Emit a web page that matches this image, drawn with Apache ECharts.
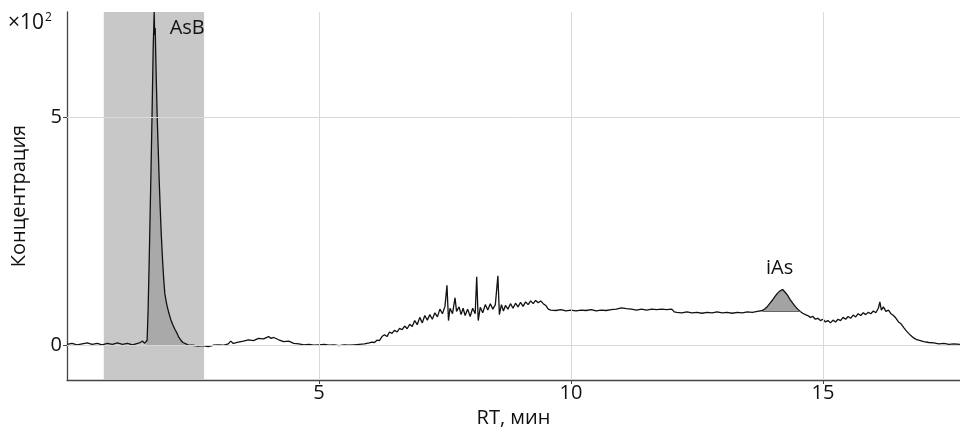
<!DOCTYPE html>
<html>
<head>
<meta charset="utf-8">
<script src="https://cdn.jsdelivr.net/npm/echarts@6/dist/echarts.min.js"></script>
<style>html,body{margin:0;padding:0;background:#fff}#c{width:960px;height:433px}</style>
</head>
<body>
<div id="c"></div>
<script>
// ---- data (RT in min, signal in ×10²) ----
var baselineStart = [[0.0,0.03],[0.1,0.05],[0.2,0.02],[0.3,0.04],[0.4,0.06],[0.5,0.03],[0.6,0.05],[0.7,0.02],[0.8,0.05],[0.9,0.03],[1.0,0.06],[1.1,0.03],[1.2,0.05],[1.3,0.02],[1.4,0.05],[1.45,0.07],[1.5,0.1],[1.54,0.05],[1.57,0.04]];
var asbPeak = [[1.59,0.12],[1.61,0.8],[1.63,1.8],[1.65,2.9],[1.67,4.0],[1.69,5.2],[1.71,6.5],[1.73,7.3],[1.74,6.8],[1.75,6.95],[1.77,5.9],[1.79,5.0],[1.81,4.3],[1.83,3.6],[1.85,3.0],[1.87,2.45],[1.90,1.8],[1.92,1.45],[1.94,1.15],[1.96,1.02],[1.98,0.9],[2.0,0.86],[2.02,0.72],[2.04,0.68],[2.06,0.57],[2.08,0.54],[2.10,0.46],[2.12,0.43],[2.14,0.36],[2.16,0.33],[2.18,0.28],[2.20,0.23],[2.22,0.18],[2.24,0.16],[2.26,0.12],[2.28,0.11],[2.30,0.07],[2.33,0.06],[2.36,0.04],[2.40,0.02]];
var midBaseline = [[2.5,0.01],[2.6,-0.01],[2.7,0.0],[2.8,-0.02],[2.9,0.01],[3.0,0.02],[3.1,0.01],[3.2,0.04],[3.25,0.1],[3.3,0.05],[3.4,0.08],[3.5,0.1],[3.6,0.13],[3.7,0.11],[3.8,0.16],[3.9,0.15],[4.0,0.2],[4.05,0.16],[4.1,0.18],[4.2,0.13],[4.3,0.09],[4.4,0.1],[4.5,0.05],[4.6,0.04],[4.7,0.02],[4.8,0.03],[4.9,0.01],[5.0,0.02],[5.1,0.03],[5.2,0.01],[5.3,0.02],[5.4,0.0],[5.5,0.02],[5.6,0.01],[5.7,0.02],[5.8,0.03],[5.9,0.04]];
var riseRegion = [[6.0,0.06],[6.05,0.08],[6.1,0.07],[6.15,0.12],[6.2,0.11],[6.25,0.2],[6.3,0.24],[6.35,0.2],[6.4,0.3],[6.45,0.27],[6.5,0.34],[6.55,0.3],[6.6,0.38],[6.65,0.35],[6.7,0.43],[6.75,0.37],[6.8,0.47],[6.85,0.42],[6.9,0.55],[6.95,0.46],[7.0,0.62],[7.05,0.5],[7.1,0.66],[7.15,0.56],[7.2,0.68],[7.25,0.58],[7.3,0.72],[7.35,0.63],[7.4,0.8],[7.45,0.7],[7.5,0.86],[7.54,1.32],[7.57,0.55],[7.6,0.82],[7.65,0.7],[7.7,1.05],[7.73,0.75],[7.78,0.85],[7.82,0.68],[7.86,0.82],[7.9,0.66],[7.95,0.8],[8.0,0.64],[8.05,0.82],[8.1,0.7],[8.13,1.51],[8.16,0.55],[8.2,0.84],[8.25,0.72],[8.3,0.9],[8.35,0.78],[8.4,0.92],[8.45,0.8],[8.5,0.9],[8.55,1.53],[8.58,0.68],[8.62,0.9],[8.66,0.76],[8.7,0.88],[8.75,0.8],[8.8,0.92],[8.85,0.82],[8.9,0.93],[8.95,0.85],[9.0,0.95],[9.05,0.86],[9.1,0.96],[9.15,0.9],[9.2,0.98],[9.25,0.92],[9.3,0.99],[9.35,0.94],[9.4,0.98],[9.45,0.92],[9.5,0.88],[9.55,0.8],[9.6,0.78]];
var plateau = [[9.7,0.77],[9.8,0.79],[9.9,0.76],[10.0,0.78],[10.1,0.76],[10.2,0.78],[10.3,0.77],[10.4,0.79],[10.5,0.76],[10.6,0.78],[10.7,0.77],[10.8,0.79],[10.9,0.8],[11.0,0.83],[11.1,0.81],[11.2,0.8],[11.3,0.78],[11.4,0.8],[11.5,0.78],[11.6,0.8],[11.7,0.79],[11.8,0.8],[11.9,0.79],[12.0,0.8],[12.05,0.74],[12.1,0.73],[12.2,0.72],[12.3,0.74],[12.4,0.72],[12.5,0.73],[12.6,0.71],[12.7,0.73],[12.8,0.72],[12.9,0.74],[13.0,0.72],[13.1,0.73],[13.2,0.71],[13.3,0.73],[13.4,0.72],[13.5,0.74],[13.6,0.73],[13.7,0.75],[13.8,0.77]];
var iasPeak = [[13.85,0.81],[13.9,0.86],[13.95,0.93],[14.0,1.0],[14.05,1.08],[14.1,1.15],[14.15,1.2],[14.2,1.23],[14.25,1.17],[14.3,1.1],[14.35,1.01],[14.4,0.93],[14.45,0.86],[14.5,0.8],[14.55,0.75],[14.6,0.71],[14.65,0.68]];
var tailRegion = [[14.7,0.66],[14.75,0.62],[14.8,0.64],[14.85,0.58],[14.9,0.6],[14.95,0.55],[15.0,0.58],[15.05,0.52],[15.1,0.55],[15.15,0.5],[15.2,0.56],[15.25,0.52],[15.3,0.58],[15.35,0.55],[15.4,0.62],[15.45,0.58],[15.5,0.64],[15.55,0.6],[15.6,0.67],[15.65,0.63],[15.7,0.7],[15.75,0.66],[15.8,0.72],[15.85,0.68],[15.9,0.73],[15.95,0.7],[16.0,0.76],[16.05,0.72],[16.1,0.82],[16.13,0.96],[16.16,0.78],[16.2,0.85],[16.25,0.75],[16.3,0.78],[16.35,0.7],[16.4,0.66],[16.45,0.6],[16.5,0.52],[16.55,0.48],[16.6,0.4],[16.65,0.33],[16.7,0.27],[16.75,0.22],[16.8,0.17],[16.85,0.14],[16.9,0.12],[17.0,0.09],[17.1,0.07],[17.2,0.06],[17.3,0.04],[17.4,0.05],[17.5,0.03],[17.6,0.04],[17.72,0.03]];

var xTicks = [5, 10, 15];
var yTicks = [0, 5];
var xRange = [0, 17.72];
var yRange = [-0.75, 7.3];
var asbWindow = [0.73, 2.72];     // shaded integration window
var asbFillRange = [1.57, 2.40];  // integrated AsB area (to 0)
var iasFillRange = [13.8, 14.55]; // integrated iAs area
var iasBase = 0.75;               // iAs integration baseline
var asbLabel = {name: 'AsB', rt: 1.73, value: 7.3};
var iasLabel = {name: 'iAs', rt: 14.2, value: 1.23};

var signal = [].concat(baselineStart, asbPeak, midBaseline, riseRegion, plateau, iasPeak, tailRegion);
function inRange(r){ return signal.filter(function(p){ return p[0] >= r[0] && p[0] <= r[1]; }); }

var FONT = 'Open Sans';
var FS = 20;
var chart = echarts.init(document.getElementById('c'), null, {renderer: 'canvas'});
chart.setOption({
  animation: false,
  backgroundColor: '#fff',
  textStyle: {fontFamily: FONT},
  grid: {left: 67, right: 0, top: 12, bottom: 53, containLabel: false},
  xAxis: {
    type: 'value', min: xRange[0], max: xRange[1],
    name: 'RT, мин', nameLocation: 'middle', nameGap: 22,
    nameTextStyle: {fontFamily: FONT, fontSize: FS, color: '#111'},
    axisLine: {show: true, onZero: false, lineStyle: {color: '#444', width: 1.3}},
    axisTick: {show: true, length: 4, customValues: xTicks, lineStyle: {color: '#444'}},
    axisLabel: {customValues: xTicks, fontFamily: FONT, fontSize: FS, color: '#111', margin: 3},
    splitLine: {show: false}
  },
  yAxis: {
    type: 'value', min: yRange[0], max: yRange[1],
    name: 'Концентрация', nameLocation: 'middle', nameGap: 38, nameRotate: 90,
    nameTextStyle: {fontFamily: FONT, fontSize: FS, color: '#111'},
    axisLine: {show: true, onZero: false, lineStyle: {color: '#444', width: 1.3}},
    axisTick: {show: true, length: 4, customValues: yTicks, lineStyle: {color: '#444'}},
    axisLabel: {customValues: yTicks, fontFamily: FONT, fontSize: FS, color: '#111', margin: 5},
    splitLine: {show: false}
  },
  graphic: [{
    type: 'text', left: 8, top: 12,
    style: {
      text: '{a|×10}{b|2}',
      rich: {
        a: {fontFamily: FONT, fontSize: 21, fill: '#111', verticalAlign: 'bottom'},
        b: {fontFamily: FONT, fontSize: 12, fill: '#111', verticalAlign: 'top', padding: [0,0,10,1]}
      }
    }
  }],
  series: [
    {
      type: 'line', data: [], z: 1, silent: true,
      markArea: {silent: true, itemStyle: {color: '#c8c8c8'},
        data: [[{xAxis: asbWindow[0]}, {xAxis: asbWindow[1]}]]}
    },
    {
      type: 'line', data: [], z: 2, silent: true,
      markLine: {silent: true, symbol: ['none','none'], label: {show: false},
        lineStyle: {color: '#d9d9d9', type: 'solid', width: 1},
        data: xTicks.map(function(v){ return {xAxis: v}; }).concat(yTicks.map(function(v){ return {yAxis: v}; }))}
    },
    {
      type: 'line', data: inRange(asbFillRange), z: 3, silent: true, showSymbol: false,
      lineStyle: {width: 0}, areaStyle: {color: '#a9a9a9', opacity: 1, origin: 0}
    },
    {
      type: 'line', data: inRange(iasFillRange), z: 3, silent: true, showSymbol: false,
      lineStyle: {width: 0}, areaStyle: {color: '#a3a3a3', opacity: 1, origin: iasBase},
      markLine: {silent: true, symbol: ['none','none'], label: {show: false},
        lineStyle: {color: '#666', type: 'solid', width: 1.2},
        data: [[{coord: [iasFillRange[0], iasBase]}, {coord: [iasFillRange[1], iasBase]}]]}
    },
    {
      type: 'line', data: signal, z: 4, silent: true, showSymbol: false,
      lineStyle: {color: '#111', width: 1.3},
      markPoint: {
        silent: true, symbol: 'circle', symbolSize: 1, itemStyle: {color: 'rgba(0,0,0,0)'},
        data: [
          {coord: [asbLabel.rt, asbLabel.value], value: 0,
           label: {show: true, formatter: asbLabel.name, position: 'right', offset: [10, 16], fontFamily: FONT, fontSize: FS, color: '#111'}},
          {coord: [iasLabel.rt, iasLabel.value], value: 0,
           label: {show: true, formatter: iasLabel.name, position: 'top', offset: [-3, -6], fontFamily: FONT, fontSize: FS, color: '#111'}}
        ]
      }
    }
  ]
});
</script>
</body>
</html>
